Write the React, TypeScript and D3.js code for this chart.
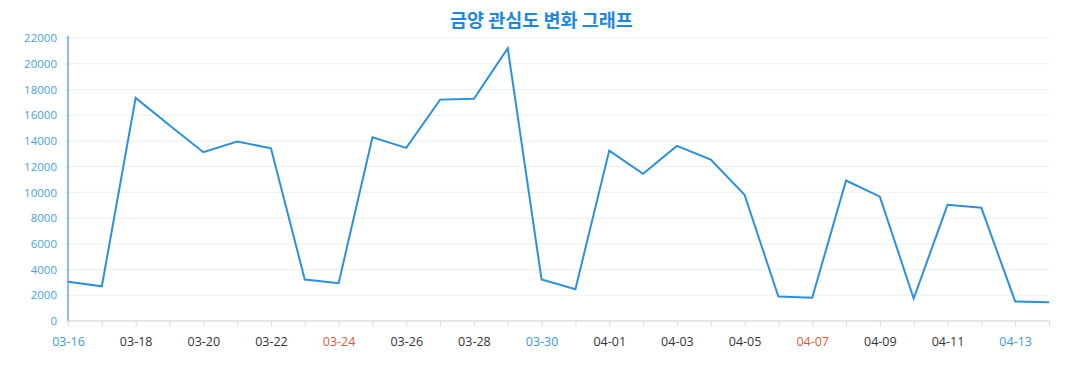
import React, { useEffect, useRef } from "react";
import * as d3 from "d3";

// 2024년 3/16 ~ 4/14 일별 관심도
const dates = [
  "03-16", "03-17", "03-18", "03-19", "03-20", "03-21", "03-22", "03-23", "03-24", "03-25",
  "03-26", "03-27", "03-28", "03-29", "03-30", "03-31", "04-01", "04-02", "04-03", "04-04",
  "04-05", "04-06", "04-07", "04-08", "04-09", "04-10", "04-11", "04-12", "04-13", "04-14",
];
const values = [
  3050, 2700, 17340, 15210, 13120, 13950, 13430, 3220, 2940, 14280,
  13460, 17210, 17270, 21200, 3220, 2470, 13250, 11440, 13610, 12550,
  9810, 1900, 1800, 10920, 9670, 1750, 9030, 8800, 1520, 1460,
];
const yTicks = [0, 2000, 4000, 6000, 8000, 10000, 12000, 14000, 16000, 18000, 20000, 22000];
const year = 2024;
const title = "금양 관심도 변화 그래프";

const W = 1077, H = 390;
const margin = { top: 38, right: 28, bottom: 69, left: 68 };

function dayColor(label: string) {
  const [m, d] = label.split("-").map(Number);
  const wd = new Date(year, m - 1, d).getDay();
  if (wd === 6) return "#3d9ad8";
  if (wd === 0) return "#e0583c";
  return "#333";
}

export default function App() {
  const ref = useRef<SVGSVGElement>(null);

  useEffect(() => {
    const svg = d3.select(ref.current);
    svg.selectAll("*").remove();

    const width = W - margin.left - margin.right;
    const height = H - margin.top - margin.bottom;

    const x = d3.scalePoint<string>().domain(dates).range([0, width]);
    const y = d3.scaleLinear().domain([0, 22000]).range([height, 0]);

    svg.append("text")
      .attr("x", W / 2 + 3)
      .attr("y", 27)
      .attr("text-anchor", "middle")
      .style("font", "bold 18.5px 'Noto Sans CJK KR', sans-serif")
      .attr("fill", "#1e88e0")
      .text(title);

    const g = svg.append("g")
      .attr("transform", "translate(" + margin.left + "," + margin.top + ")");

    // grid
    g.append("g")
      .selectAll("line")
      .data(yTicks.filter(t => t > 0))
      .enter()
      .append("line")
      .attr("x1", 0)
      .attr("x2", width)
      .attr("y1", d => y(d))
      .attr("y2", d => y(d))
      .attr("stroke", "#eeeeee")
      .attr("stroke-width", 1);

    // y axis
    const yAxis = d3.axisLeft(y).tickValues(yTicks).tickFormat(d3.format("d")).tickSize(3).tickPadding(8);
    const ya = g.append("g").call(yAxis);
    ya.select(".domain").remove();
    ya.selectAll(".tick line").attr("stroke", "#cfe3f3");
    ya.selectAll(".tick text")
      .attr("fill", "#4a9fd6")
      .style("font", "11.5px 'Open Sans', sans-serif");
    g.append("line")
      .attr("x1", 0).attr("x2", 0)
      .attr("y1", -2).attr("y2", height)
      .attr("stroke", "#3d94d8")
      .attr("stroke-width", 1.2);

    // x axis
    const xAxis = d3.axisBottom(x)
      .tickSize(6)
      .tickPadding(10)
      .tickFormat((d, i) => (i % 2 === 0 ? d : ""));
    const xa = g.append("g")
      .attr("transform", "translate(0," + height + ")")
      .call(xAxis);
    xa.select(".domain").attr("stroke", "#dddddd").attr("stroke-width", 1.5)
      .attr("d", "M0,0H" + width);
    xa.selectAll(".tick line").attr("stroke", "#dddddd");
    xa.selectAll<SVGTextElement, string>(".tick text")
      .attr("fill", d => dayColor(d))
      .style("font", "12.5px 'Open Sans', sans-serif");

    // line
    g.append("path")
      .datum(values)
      .attr("fill", "none")
      .attr("stroke", "#2b91de")
      .attr("stroke-width", 2)
      .attr("stroke-linejoin", "miter")
      .attr("d", d3.line<number>()
        .x((d, i) => x(dates[i]) as number)
        .y(d => y(d))
      );
  }, []);

  return (
    <svg ref={ref} width={W} height={H} style={{ position: "absolute", left: 0, top: 0, background: "#fff" }} />
  );
}
